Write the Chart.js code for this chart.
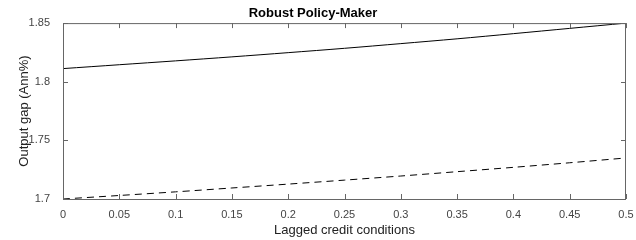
<!DOCTYPE html>
<html><head><meta charset="utf-8">
<script src="https://cdn.jsdelivr.net/npm/chart.js@4/dist/chart.umd.min.js"></script>
<style>html,body{margin:0;padding:0;background:#fff}canvas{display:block}</style>
</head><body><canvas id="c" width="636" height="240"></canvas>
<script>
const xValues = [0, 0.05, 0.1, 0.15, 0.2, 0.25, 0.3, 0.35, 0.4, 0.45, 0.5];
const solidSeries = [1.8112, 1.8145, 1.8178, 1.8212, 1.8248, 1.8285, 1.8325, 1.8366, 1.8410, 1.8455, 1.8500];
const dashedSeries = [1.7000, 1.7030, 1.7061, 1.7094, 1.7127, 1.7161, 1.7196, 1.7233, 1.7270, 1.7309, 1.7350];
const xTicks = [0, 0.05, 0.1, 0.15, 0.2, 0.25, 0.3, 0.35, 0.4, 0.45, 0.5];
const yTicks = [1.7, 1.75, 1.8, 1.85];

const boxTicks = {
  id: 'boxTicks',
  afterDraw(chart) {
    const {ctx, chartArea: a, scales} = chart;
    ctx.save();
    ctx.strokeStyle = '#666';
    ctx.lineWidth = 1;
    ctx.strokeRect(a.left + 0.5, a.top + 0.5, a.right - a.left - 1, a.bottom - a.top);
    ctx.beginPath();
    const L = 5;
    xTicks.forEach(v => {
      const x = Math.round(scales.x.getPixelForValue(v)) + 0.5;
      ctx.moveTo(x, a.bottom); ctx.lineTo(x, a.bottom - L);
      ctx.moveTo(x, a.top); ctx.lineTo(x, a.top + L);
    });
    yTicks.forEach(v => {
      const y = Math.round(scales.y.getPixelForValue(v)) + 0.5;
      ctx.moveTo(a.left, y); ctx.lineTo(a.left + L, y);
      ctx.moveTo(a.right, y); ctx.lineTo(a.right - L, y);
    });
    ctx.stroke();
    ctx.restore();
  }
};

new Chart(document.getElementById('c'), {
  type: 'line',
  data: {
    datasets: [
      { data: xValues.map((x, i) => ({x, y: solidSeries[i]})), borderColor: '#000', borderWidth: 1, pointRadius: 0, tension: 0.3, fill: false },
      { data: xValues.map((x, i) => ({x, y: dashedSeries[i]})), borderColor: '#000', borderWidth: 1, borderDash: [7, 5], pointRadius: 0, tension: 0.3, fill: false }
    ]
  },
  options: {
    responsive: false,
    animation: false,
    devicePixelRatio: 1,
    layout: { padding: { left: 0, right: 10, top: 0, bottom: 0 } },
    plugins: {
      legend: { display: false },
      tooltip: { enabled: false },
      title: { display: true, text: 'Robust Policy-Maker', color: '#000', font: { family: 'Liberation Sans, Arial', size: 13, weight: 'bold' }, padding: { top: 6, bottom: 1.5 } }
    },
    scales: {
      x: {
        type: 'linear', min: 0, max: 0.5,
        afterBuildTicks(s) { s.ticks = xTicks.map(v => ({value: v})); },
        afterFit(s) { s.height = 41; },
        grid: { display: false },
        border: { display: false },
        ticks: { color: '#444', font: { family: 'Liberation Sans, Arial', size: 11 }, padding: 1, maxRotation: 0, autoSkip: false, callback: v => String(parseFloat(v.toFixed(2))) },
        title: { display: true, text: 'Lagged credit conditions', color: '#222', font: { family: 'Liberation Sans, Arial', size: 13 }, padding: { top: 2, bottom: 2 } }
      },
      y: {
        type: 'linear', min: 1.7, max: 1.85,
        afterBuildTicks(s) { s.ticks = yTicks.map(v => ({value: v})); },
        afterFit(s) { s.width = 63; },
        grid: { display: false },
        border: { display: false },
        ticks: { color: '#444', font: { family: 'Liberation Sans, Arial', size: 11 }, padding: 5, autoSkip: false, callback: v => String(parseFloat(v.toFixed(2))) },
        title: { display: true, text: 'Output gap (Ann%)', color: '#222', font: { family: 'Liberation Sans, Arial', size: 13 }, padding: { top: 17, bottom: 0 } }
      }
    }
  },
  plugins: [boxTicks]
});
</script>
</body></html>
